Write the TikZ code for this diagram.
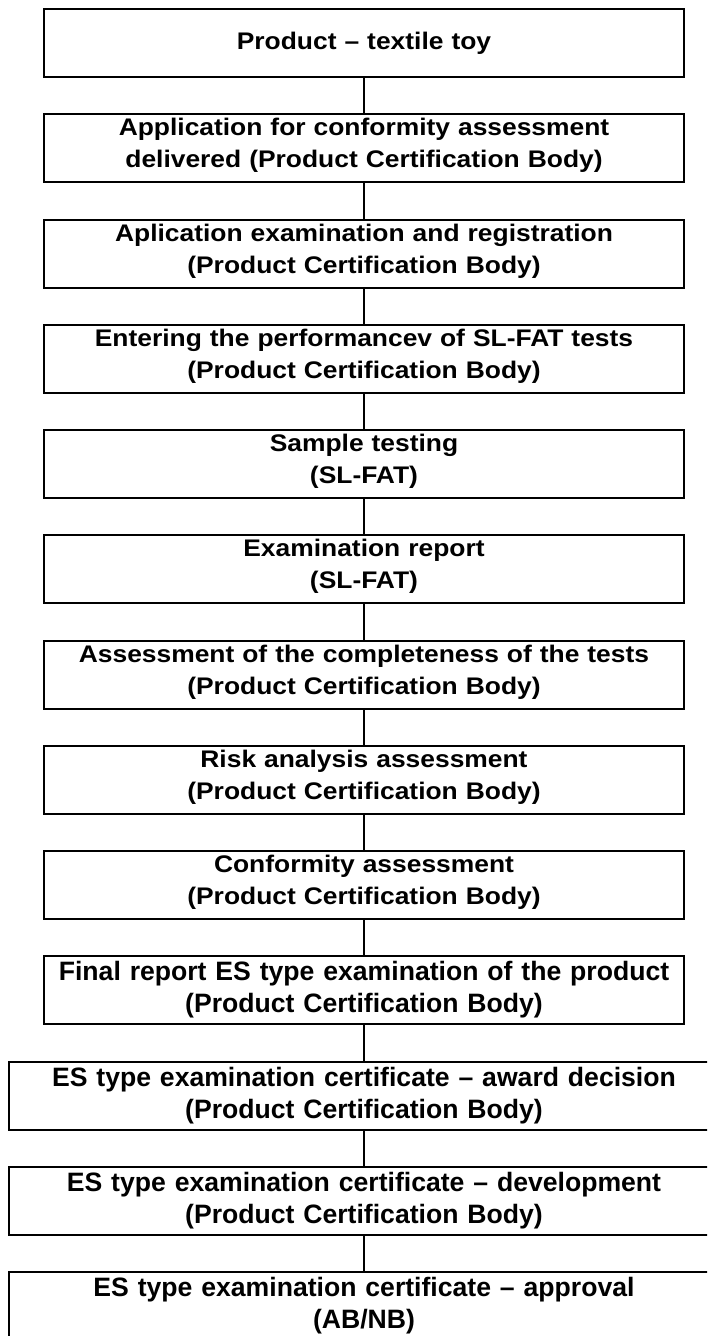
\documentclass[tikz,border=0pt]{standalone}
\usepackage{fontspec}
\setmainfont{Liberation Sans}
\newfontfamily\widesans[FakeStretch=1.1,Ligatures=TeX]{Liberation Sans}

\begin{document}
\begin{tikzpicture}
        [x=1pt,y=-1pt,every node/.style={draw,line width=2pt,inner sep=0,align=center,text width=630pt,minimum width=640pt,minimum height=68pt,font=\widesans\fontsize{24}{32}\selectfont\bfseries,text height=16pt,text depth=41pt},
        plain/.style={font=\rmfamily\fontsize{26.6}{32}\selectfont\bfseries,text height=20pt,text depth=39pt},
        wide/.style={plain,minimum width=710pt}]

        \useasboundingbox (0,0) rectangle (707,1336);
        \clip (0,0) rectangle (707,1336);

        \node[text height=17pt,text depth=4pt] (b1) at (364, 43) {Product -- textile toy};
        \node (b2) at (364, 148.25) {Application for conformity assessment\\delivered (Product Certification Body)};
        \node (b3) at (364, 253.5) {Aplication examination and registration\\(Product Certification Body)};
        \node (b4) at (364, 358.75) {Entering the performancev of SL-FAT tests\\(Product Certification Body)};
        \node (b5) at (364, 464) {Sample testing\\(SL-FAT)};
        \node (b6) at (364, 569.25) {Examination report\\(SL-FAT)};
        \node (b7) at (364, 674.5) {Assessment of the completeness of the tests\\(Product Certification Body)};
        \node (b8) at (364, 779.75) {Risk analysis assessment\\(Product Certification Body)};
        \node (b9) at (364, 885) {Conformity assessment\\(Product Certification Body)};
        \node[plain] (b10) at (364, 990.25) {Final report ES type examination of the product\\(Product Certification Body)};
        \node[wide] (b11) at (364, 1095.5) {ES type examination certificate -- award decision\\(Product Certification Body)};
        \node[wide] (b12) at (364, 1200.75) {ES type examination certificate -- development\\(Product Certification Body)};
        \node[wide] (b13) at (364, 1306) {ES type examination certificate -- approval\\(AB/NB)};

        \draw[line width=1.6pt] (b1) -- (b2);
        \draw[line width=1.6pt] (b2) -- (b3);
        \draw[line width=1.6pt] (b3) -- (b4);
        \draw[line width=1.6pt] (b4) -- (b5);
        \draw[line width=1.6pt] (b5) -- (b6);
        \draw[line width=1.6pt] (b6) -- (b7);
        \draw[line width=1.6pt] (b7) -- (b8);
        \draw[line width=1.6pt] (b8) -- (b9);
        \draw[line width=1.6pt] (b9) -- (b10);
        \draw[line width=1.6pt] (b10) -- (b11);
        \draw[line width=1.6pt] (b11) -- (b12);
        \draw[line width=1.6pt] (b12) -- (b13);
      \end{tikzpicture}
\end{document}
